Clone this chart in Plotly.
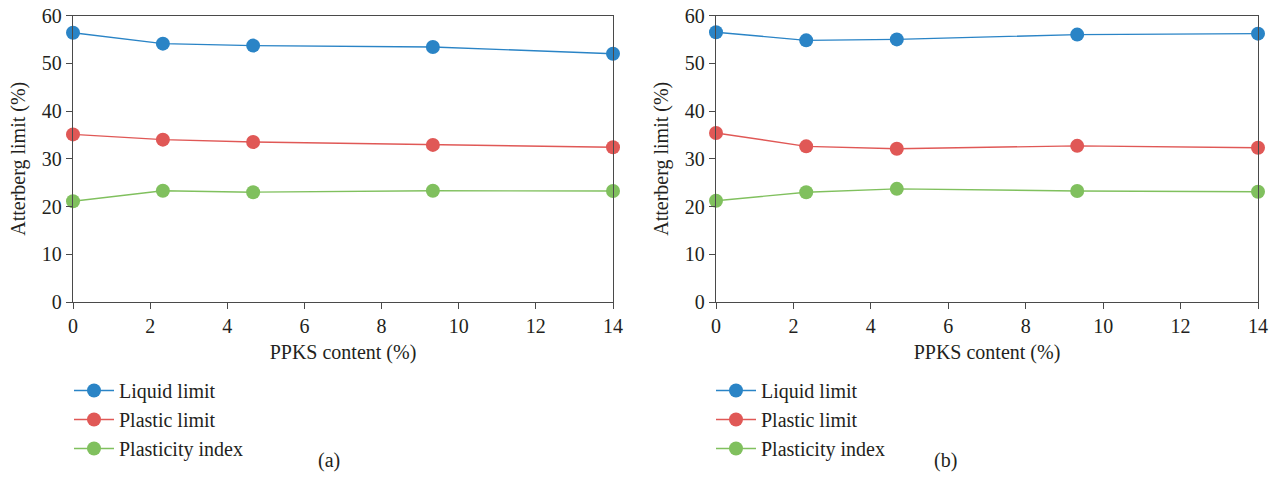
import plotly.graph_objects as go

# PPKS content (%)
ppks = [0, 2.33, 4.67, 9.33, 14]

# Panel (a)
liquid_a = [56.4, 54.1, 53.7, 53.4, 52.0]
plastic_a = [35.1, 34.0, 33.5, 32.9, 32.4]
pi_a = [21.1, 23.3, 23.0, 23.3, 23.25]

# Panel (b)
liquid_b = [56.5, 54.8, 55.0, 56.0, 56.2]
plastic_b = [35.4, 32.6, 32.1, 32.7, 32.3]
pi_b = [21.2, 23.0, 23.7, 23.25, 23.1]

series_names = ["Liquid limit", "Plastic limit", "Plasticity index"]
colors = ["#2a84c6", "#e05856", "#80c05e"]

FONT = "Liberation Serif, Times New Roman, serif"
TXT = "#231f20"
AX = "#4a4a4a"
FS = 20

fig = go.Figure()

panels = [
    ("x", "y", "legend", [liquid_a, plastic_a, pi_a]),
    ("x2", "y2", "legend2", [liquid_b, plastic_b, pi_b]),
]
for xa, ya, leg, data in panels:
    for name, vals, col in zip(series_names, data, colors):
        fig.add_trace(go.Scatter(
            x=ppks, y=vals, name=name, mode="lines+markers",
            line=dict(color=col, width=1.4),
            marker=dict(color=col, size=14),
            xaxis=xa, yaxis=ya, legend=leg, cliponaxis=False,
        ))

axis_common = dict(
    showline=True, linecolor=AX, linewidth=1.3, mirror=True,
    ticks="outside", ticklen=6, tickcolor=AX, tickwidth=1.2,
    showgrid=False, zeroline=False, automargin=False,
    tickfont=dict(family=FONT, size=FS, color=TXT),
)
xaxis_common = dict(axis_common, range=[0, 14], tick0=0, dtick=2,
                    title=dict(text="PPKS content (%)", font=dict(family=FONT, size=FS, color=TXT), standoff=8))
yaxis_common = dict(axis_common, range=[0, 60], tick0=0, dtick=10,
                    title=dict(text="Atterberg limit (%)", font=dict(family=FONT, size=FS, color=TXT), standoff=10))

legend_common = dict(
    font=dict(family=FONT, size=FS, color=TXT),
    bgcolor="rgba(0,0,0,0)", yanchor="top", xanchor="left",
    tracegroupgap=0, itemwidth=40,
)

fig.update_layout(
    width=1277, height=502,
    margin=dict(l=0, r=0, t=0, b=0, autoexpand=False),
    paper_bgcolor="white", plot_bgcolor="white",
    font=dict(family=FONT, color=TXT),
    xaxis=dict(xaxis_common, domain=[73 / 1277, 613 / 1277], anchor="y"),
    yaxis=dict(yaxis_common, domain=[1 - 302 / 502, 1 - 15.5 / 502], anchor="x"),
    xaxis2=dict(xaxis_common, domain=[716 / 1277, 1258 / 1277], anchor="y2"),
    yaxis2=dict(yaxis_common, domain=[1 - 302 / 502, 1 - 15.5 / 502], anchor="x2"),
    legend=dict(legend_common, x=69 / 1277, y=1 - 371 / 502),
    legend2=dict(legend_common, x=711 / 1277, y=1 - 371 / 502),
    annotations=[
        dict(text="(a)", x=316 / 1277, y=1 - 474 / 502, xref="paper", yref="paper",
             showarrow=False, font=dict(family=FONT, size=FS, color=TXT)),
        dict(text="(b)", x=959 / 1277, y=1 - 474 / 502, xref="paper", yref="paper",
             showarrow=False, font=dict(family=FONT, size=FS, color=TXT)),
    ],
)

fig.write_html("out.html")
